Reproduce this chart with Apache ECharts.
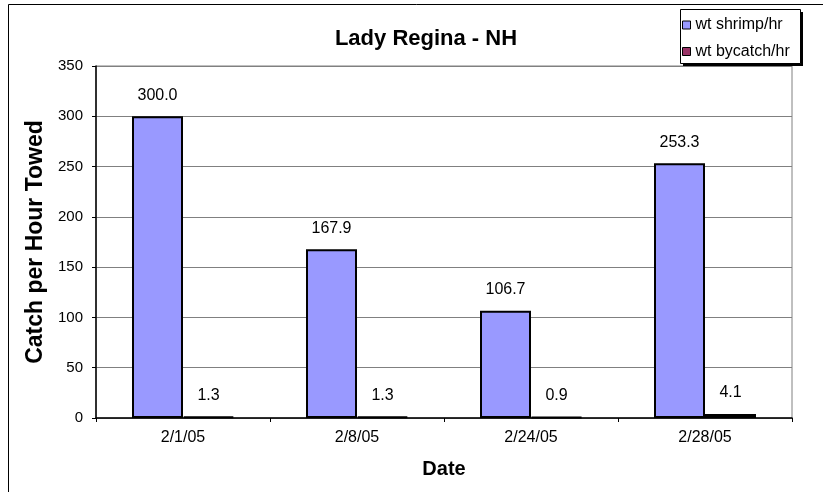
<!DOCTYPE html>
<html><head><meta charset="utf-8">
<script src="https://cdn.jsdelivr.net/npm/echarts@6/dist/echarts.min.js"></script>
<style>html,body{margin:0;padding:0;background:#fff}#c{width:823px;height:492px}</style>
</head><body><div id="c"></div>
<script>
const categories = ['2/1/05','2/8/05','2/24/05','2/28/05'];
const shrimp = [300.0, 167.9, 106.7, 253.3];
const bycatch = [1.3, 1.3, 0.9, 4.1];
const seriesNames = ['wt shrimp/hr','wt bycatch/hr'];

const chart = echarts.init(document.getElementById('c'), null, {renderer:'canvas'});
const F = 'Liberation Sans, Arial, sans-serif';
chart.setOption({
  animation:false,
  graphic:[
    {type:'rect', shape:{x:8.5,y:4.5,width:830,height:500}, style:{fill:'none',stroke:'#000',lineWidth:1}, z:-1},
    {type:'rect', shape:{x:683,y:12,width:120,height:54}, style:{fill:'#000'}, z:9},
    {type:'rect', shape:{x:680.5,y:9.5,width:120,height:54}, style:{fill:'#fff',stroke:'#000',lineWidth:1}, z:10}
  ],
  title:{text:'Lady Regina - NH', left:421, top:23, textAlign:'center',
    textStyle:{fontFamily:F,fontSize:22,fontWeight:'bold',color:'#000'}},
  legend:{orient:'vertical', left:680, top:12, padding:[5,5,5,2], icon:'rect',
    itemWidth:8, itemHeight:8, itemGap:10.5,
    textStyle:{fontFamily:F,fontSize:16,color:'#000'},
    itemStyle:{borderColor:'#000',borderWidth:1},
    data:seriesNames, z:11},
  grid:{left:96, right:31, top:66, bottom:74, show:true, borderColor:'#808080', borderWidth:1},
  xAxis:{type:'category', data:categories,
    name:'Date', nameLocation:'middle', nameGap:41,
    nameTextStyle:{fontFamily:F,fontSize:20,fontWeight:'bold',color:'#000'},
    axisLine:{lineStyle:{color:'#000',width:1.5}},
    axisTick:{show:true,length:4,lineStyle:{color:'#000'}},
    axisLabel:{fontFamily:F,fontSize:16,color:'#000',margin:12}},
  yAxis:{type:'value', min:0, max:350, interval:50,
    name:'Catch per Hour Towed', nameLocation:'middle', nameGap:47,
    nameTextStyle:{fontFamily:F,fontSize:23,fontWeight:'bold',color:'#000'},
    axisLine:{show:true,lineStyle:{color:'#000',width:1.5}},
    axisTick:{show:true,length:4,lineStyle:{color:'#000'}},
    splitLine:{show:true,lineStyle:{color:'#808080',width:1}},
    axisLabel:{fontFamily:F,fontSize:15,color:'#000',margin:13}},
  series:[
    {name:seriesNames[0], type:'bar', data:shrimp, barWidth:51, barGap:'0%',
      itemStyle:{color:'#9999FF',borderColor:'#000',borderWidth:2},
      label:{show:true,position:'top',distance:13,fontFamily:F,fontSize:16,color:'#000',
        formatter:p=>p.value.toFixed(1)}},
    {name:seriesNames[1], type:'bar', data:bycatch, barWidth:51, barGap:'0%',
      itemStyle:{color:'#993366',borderColor:'#000',borderWidth:2},
      label:{show:true,position:'top',distance:13,fontFamily:F,fontSize:16,color:'#000',
        formatter:p=>p.value.toFixed(1)}}
  ]
});
</script></body></html>
